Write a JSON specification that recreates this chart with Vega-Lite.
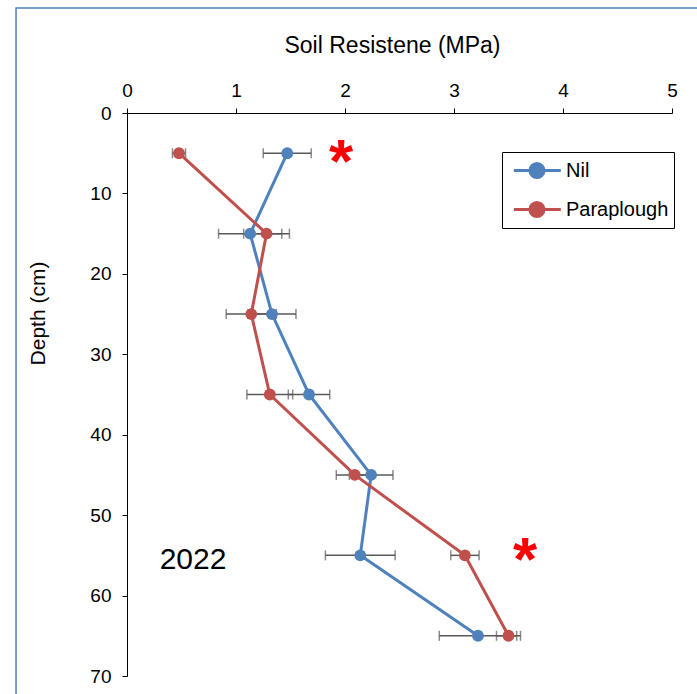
{
  "$schema": "https://vega.github.io/schema/vega-lite/v6.json",
  "width": 545,
  "height": 563,
  "autosize": {"type": "none"},
  "padding": {"left": 127, "top": 113, "right": 25, "bottom": 18},
  "background": "white",
  "config": {
    "view": {"stroke": null},
    "font": "Liberation Sans",
    "axis": {
      "grid": false,
      "domainColor": "black",
      "domainWidth": 1,
      "tickColor": "black",
      "tickWidth": 1,
      "tickSize": 5,
      "labelFont": "Liberation Sans",
      "labelFontSize": 19,
      "labelColor": "black",
      "labelFlush": false,
      "titleFont": "Liberation Sans",
      "titleFontSize": 21,
      "titleFontWeight": "normal",
      "titleColor": "black"
    },
    "legend": {
      "labelFont": "Liberation Sans",
      "labelFontSize": 20,
      "labelColor": "black"
    }
  },
  "datasets": {
    "series": [
      {"treatment": "Nil", "depth": 5, "mpa": 1.47, "lo": 1.25, "hi": 1.69},
      {"treatment": "Nil", "depth": 15, "mpa": 1.13, "lo": 0.84, "hi": 1.42},
      {"treatment": "Nil", "depth": 25, "mpa": 1.33, "lo": 1.11, "hi": 1.55},
      {"treatment": "Nil", "depth": 35, "mpa": 1.67, "lo": 1.48, "hi": 1.86},
      {"treatment": "Nil", "depth": 45, "mpa": 2.24, "lo": 2.04, "hi": 2.44},
      {"treatment": "Nil", "depth": 55, "mpa": 2.14, "lo": 1.82, "hi": 2.46},
      {"treatment": "Nil", "depth": 65, "mpa": 3.22, "lo": 2.865, "hi": 3.575},
      {"treatment": "Paraplough", "depth": 5, "mpa": 0.477, "lo": 0.417, "hi": 0.537},
      {"treatment": "Paraplough", "depth": 15, "mpa": 1.28, "lo": 1.07, "hi": 1.49},
      {"treatment": "Paraplough", "depth": 25, "mpa": 1.14, "lo": 0.91, "hi": 1.37},
      {"treatment": "Paraplough", "depth": 35, "mpa": 1.31, "lo": 1.1, "hi": 1.52},
      {"treatment": "Paraplough", "depth": 45, "mpa": 2.09, "lo": 1.92, "hi": 2.26},
      {"treatment": "Paraplough", "depth": 55, "mpa": 3.1, "lo": 2.97, "hi": 3.23},
      {"treatment": "Paraplough", "depth": 65, "mpa": 3.5, "lo": 3.39, "hi": 3.61}
    ],
    "stars": [
      {"label": "*", "mpa": 1.963, "depth": 8.58},
      {"label": "*", "mpa": 3.651, "depth": 58.06}
    ],
    "year": [
      {"label": "2022", "mpa": 0.606, "depth": 56.73}
    ]
  },
  "layer": [
    {
      "data": {"values": [{}]},
      "mark": {"type": "rect", "fill": "white", "fillOpacity": 0, "stroke": "#4F81BD", "strokeWidth": 1.5},
      "encoding": {
        "x": {"datum": -1.018, "type": "quantitative"},
        "x2": {"datum": 7},
        "y": {"datum": -13.05, "type": "quantitative"},
        "y2": {"datum": 90}
      }
    },
    {
      "data": {"name": "series"},
      "mark": {"type": "rule", "color": "#595959", "strokeWidth": 1.5},
      "encoding": {
        "x": {"field": "lo", "type": "quantitative"},
        "x2": {"field": "hi"},
        "y": {"field": "depth", "type": "quantitative"}
      }
    },
    {
      "data": {"name": "series"},
      "mark": {"type": "tick", "orient": "vertical", "color": "#595959", "thickness": 1.5, "size": 10},
      "encoding": {
        "x": {"field": "lo", "type": "quantitative"},
        "y": {"field": "depth", "type": "quantitative"}
      }
    },
    {
      "data": {"name": "series"},
      "mark": {"type": "tick", "orient": "vertical", "color": "#595959", "thickness": 1.5, "size": 10},
      "encoding": {
        "x": {"field": "hi", "type": "quantitative"},
        "y": {"field": "depth", "type": "quantitative"}
      }
    },
    {
      "data": {"name": "series"},
      "mark": {"type": "line", "strokeWidth": 3},
      "encoding": {
        "x": {
          "field": "mpa",
          "type": "quantitative",
          "title": "Soil Resistene (MPa)",
          "scale": {"domain": [0, 5], "nice": false, "zero": false},
          "axis": {
            "orient": "top",
            "values": [0, 1, 2, 3, 4, 5],
            "format": "d",
            "labelPadding": 8,
            "titleFontSize": 23,
            "titleX": 265,
            "titleY": -68,
            "titleBaseline": "middle",
            "titleAnchor": "middle",
            "titleAlign": "center"
          }
        },
        "y": {
          "field": "depth",
          "type": "quantitative",
          "title": "Depth (cm)",
          "scale": {"domain": [0, 70], "reverse": true, "nice": false, "zero": false},
          "axis": {
            "orient": "left",
            "values": [0, 10, 20, 30, 40, 50, 60, 70],
            "format": "d",
            "labelPadding": 11,
            "titleX": -89,
            "titleY": 200,
            "titleBaseline": "middle",
            "titleAlign": "center",
            "titleAngle": -90
          }
        },
        "order": {"field": "depth"},
        "color": {
          "field": "treatment",
          "type": "nominal",
          "scale": {"domain": ["Nil", "Paraplough"], "range": ["#4F81BD", "#C0504D"]},
          "legend": {
            "title": null,
            "orient": "none",
            "legendX": 375,
            "legendY": 39,
            "padding": 5,
            "rowPadding": 12,
            "labelOffset": 32,
            "strokeColor": "black",
            "fillColor": "white",
            "symbolType": "M-0.57,0L3.43,0M0.8,0A0.6,0.6,0,1,1,2,0A0.6,0.6,0,1,1,0.8,0Z",
            "symbolSize": 552,
            "symbolStrokeWidth": 3,
            "encode": {
              "symbols": {
                "update": {
                  "fill": {"scale": "color", "field": "value"},
                  "stroke": {"scale": "color", "field": "value"},
                  "fillOpacity": {"value": 1}
                }
              }
            }
          }
        }
      }
    },
    {
      "data": {"name": "series"},
      "mark": {"type": "point", "filled": true, "opacity": 1, "size": 140},
      "encoding": {
        "x": {"field": "mpa", "type": "quantitative"},
        "y": {"field": "depth", "type": "quantitative"},
        "color": {"field": "treatment", "type": "nominal", "legend": null}
      }
    },
    {
      "data": {"name": "stars"},
      "mark": {"type": "text", "color": "#FF0000", "fontSize": 62, "fontWeight": "bold", "align": "center", "baseline": "alphabetic", "font": "Liberation Sans"},
      "encoding": {
        "x": {"field": "mpa", "type": "quantitative"},
        "y": {"field": "depth", "type": "quantitative"},
        "text": {"field": "label"}
      }
    },
    {
      "data": {"name": "year"},
      "mark": {"type": "text", "color": "black", "fontSize": 30, "align": "center", "baseline": "alphabetic", "font": "Liberation Sans"},
      "encoding": {
        "x": {"field": "mpa", "type": "quantitative"},
        "y": {"field": "depth", "type": "quantitative"},
        "text": {"field": "label"}
      }
    }
  ]
}
